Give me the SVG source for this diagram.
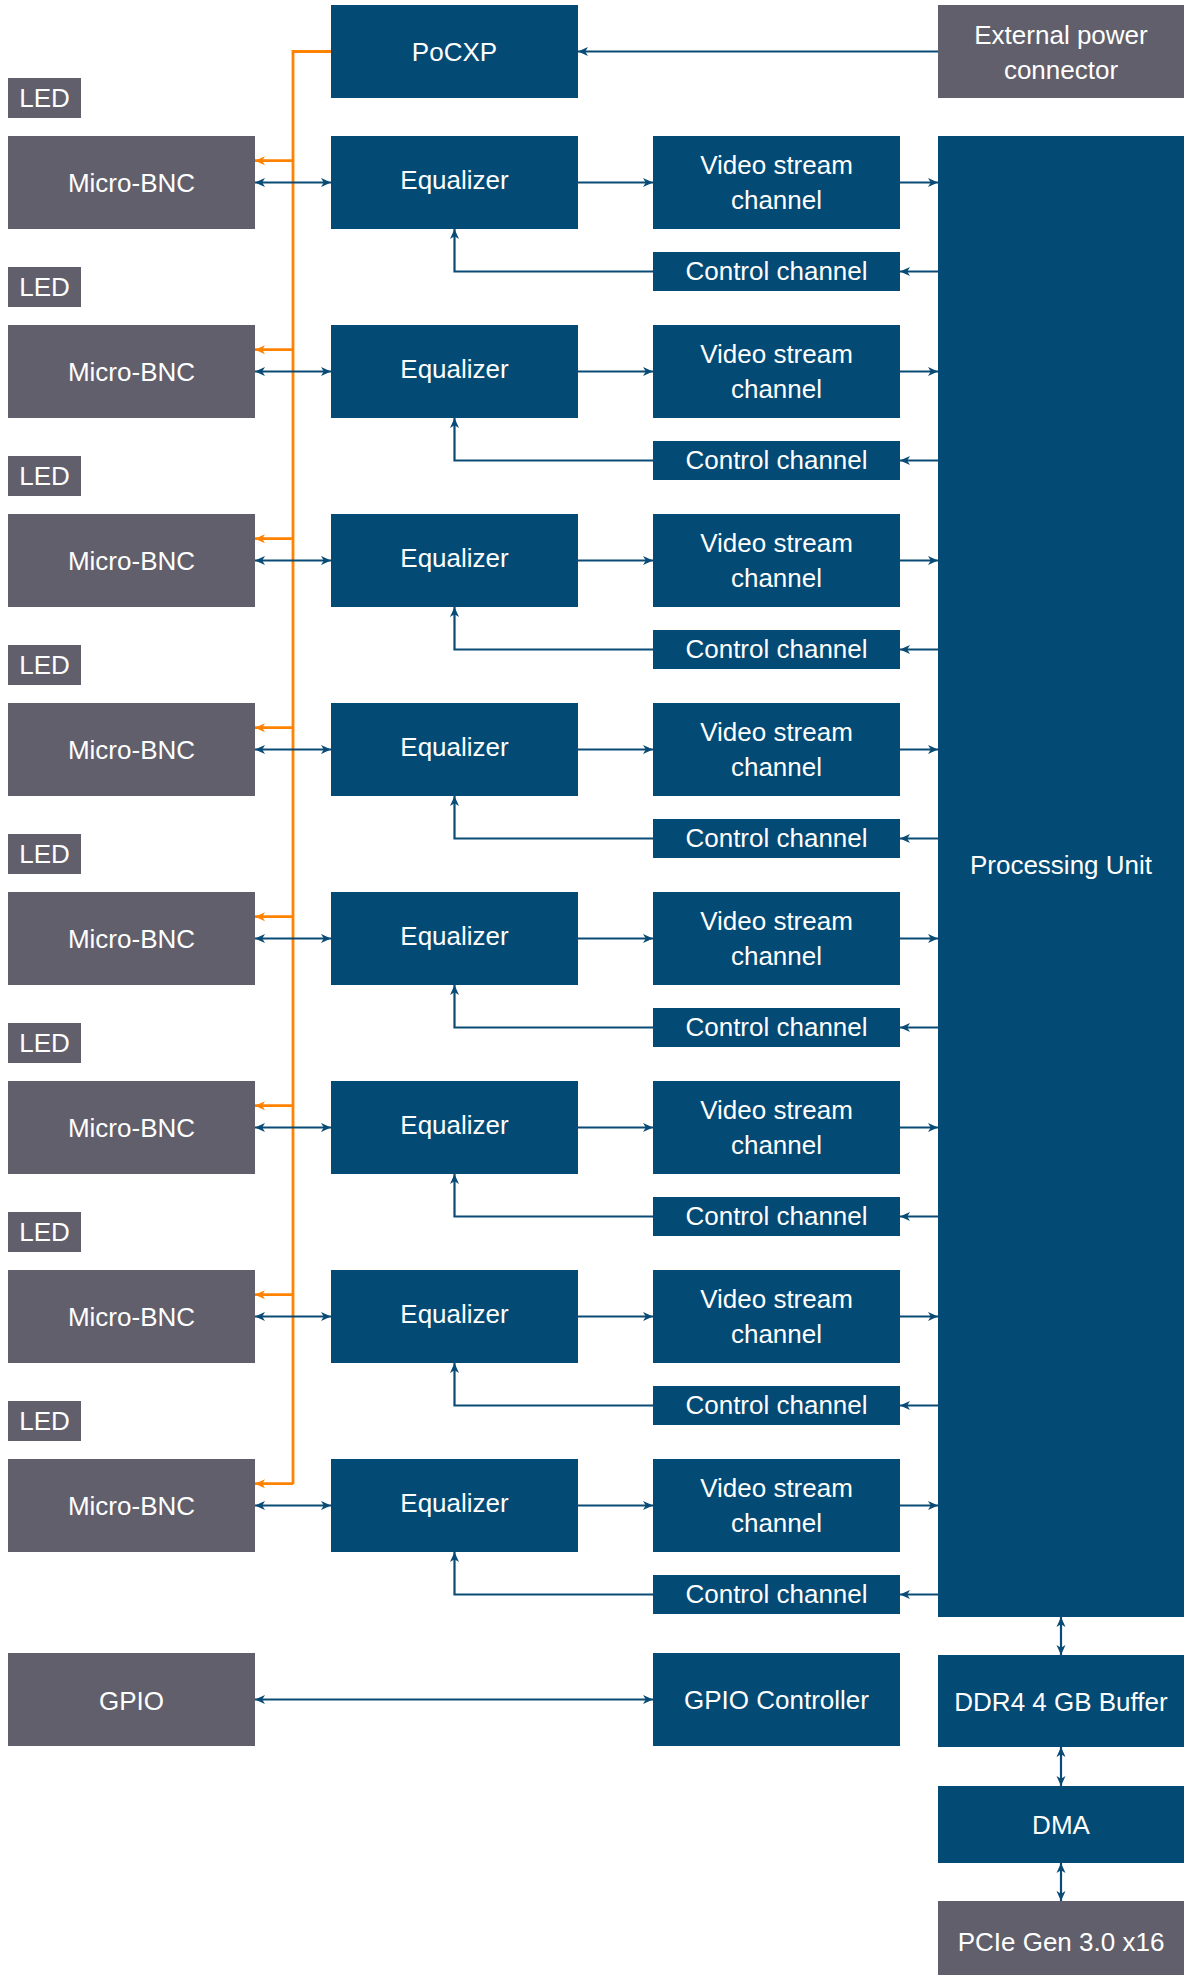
<svg xmlns="http://www.w3.org/2000/svg" width="1186" height="1975" viewBox="0 0 1186 1975">
<style>
.b{fill:#034a75}
.g{fill:#605f6b}
.t{font-family:"Liberation Sans",Arial,sans-serif;font-size:26px;fill:#ffffff;text-anchor:middle}
.c{fill:none;stroke:#0a4b76;stroke-width:2.2}
.o{fill:none;stroke:#ff8200;stroke-width:2.8}
</style>
<defs>
<marker id="ab" viewBox="0 0 10 10" refX="10" refY="5" markerWidth="10" markerHeight="10" markerUnits="userSpaceOnUse" orient="auto-start-reverse">
<path d="M0,0.5 L10,5 L0,9.5 L2.8,5 z" fill="#0a4b76"/>
</marker>
<marker id="ao" viewBox="0 0 10 10" refX="10" refY="5" markerWidth="10" markerHeight="10" markerUnits="userSpaceOnUse" orient="auto-start-reverse">
<path d="M0,0.5 L10,5 L0,9.5 L2.8,5 z" fill="#ff8200"/>
</marker>
</defs>

<g id="connectors">
<path class="c" d="M938,51.5 H578" marker-end="url(#ab)"/>
<path class="o" d="M331,51.5 H293 V1484"/>
<g id="row-connectors">
<path class="o" d="M293,160.7 H255" marker-end="url(#ao)"/>
<path class="o" d="M293,349.7 H255" marker-end="url(#ao)"/>
<path class="o" d="M293,538.7 H255" marker-end="url(#ao)"/>
<path class="o" d="M293,727.7 H255" marker-end="url(#ao)"/>
<path class="o" d="M293,916.7 H255" marker-end="url(#ao)"/>
<path class="o" d="M293,1105.7 H255" marker-end="url(#ao)"/>
<path class="o" d="M293,1294.7 H255" marker-end="url(#ao)"/>
<path class="o" d="M293,1483.7 H255" marker-end="url(#ao)"/>

<path class="c" d="M255,182.5 H331" marker-start="url(#ab)" marker-end="url(#ab)"/>
<path class="c" d="M255,371.5 H331" marker-start="url(#ab)" marker-end="url(#ab)"/>
<path class="c" d="M255,560.5 H331" marker-start="url(#ab)" marker-end="url(#ab)"/>
<path class="c" d="M255,749.5 H331" marker-start="url(#ab)" marker-end="url(#ab)"/>
<path class="c" d="M255,938.5 H331" marker-start="url(#ab)" marker-end="url(#ab)"/>
<path class="c" d="M255,1127.5 H331" marker-start="url(#ab)" marker-end="url(#ab)"/>
<path class="c" d="M255,1316.5 H331" marker-start="url(#ab)" marker-end="url(#ab)"/>
<path class="c" d="M255,1505.5 H331" marker-start="url(#ab)" marker-end="url(#ab)"/>

<path class="c" d="M578,182.5 H653" marker-end="url(#ab)"/>
<path class="c" d="M578,371.5 H653" marker-end="url(#ab)"/>
<path class="c" d="M578,560.5 H653" marker-end="url(#ab)"/>
<path class="c" d="M578,749.5 H653" marker-end="url(#ab)"/>
<path class="c" d="M578,938.5 H653" marker-end="url(#ab)"/>
<path class="c" d="M578,1127.5 H653" marker-end="url(#ab)"/>
<path class="c" d="M578,1316.5 H653" marker-end="url(#ab)"/>
<path class="c" d="M578,1505.5 H653" marker-end="url(#ab)"/>

<path class="c" d="M900,182.5 H938" marker-end="url(#ab)"/>
<path class="c" d="M900,371.5 H938" marker-end="url(#ab)"/>
<path class="c" d="M900,560.5 H938" marker-end="url(#ab)"/>
<path class="c" d="M900,749.5 H938" marker-end="url(#ab)"/>
<path class="c" d="M900,938.5 H938" marker-end="url(#ab)"/>
<path class="c" d="M900,1127.5 H938" marker-end="url(#ab)"/>
<path class="c" d="M900,1316.5 H938" marker-end="url(#ab)"/>
<path class="c" d="M900,1505.5 H938" marker-end="url(#ab)"/>

<path class="c" d="M938,271.5 H900" marker-end="url(#ab)"/>
<path class="c" d="M938,460.5 H900" marker-end="url(#ab)"/>
<path class="c" d="M938,649.5 H900" marker-end="url(#ab)"/>
<path class="c" d="M938,838.5 H900" marker-end="url(#ab)"/>
<path class="c" d="M938,1027.5 H900" marker-end="url(#ab)"/>
<path class="c" d="M938,1216.5 H900" marker-end="url(#ab)"/>
<path class="c" d="M938,1405.5 H900" marker-end="url(#ab)"/>
<path class="c" d="M938,1594.5 H900" marker-end="url(#ab)"/>

<path class="c" d="M653,271.5 H454.5 V229" marker-end="url(#ab)"/>
<path class="c" d="M653,460.5 H454.5 V418" marker-end="url(#ab)"/>
<path class="c" d="M653,649.5 H454.5 V607" marker-end="url(#ab)"/>
<path class="c" d="M653,838.5 H454.5 V796" marker-end="url(#ab)"/>
<path class="c" d="M653,1027.5 H454.5 V985" marker-end="url(#ab)"/>
<path class="c" d="M653,1216.5 H454.5 V1174" marker-end="url(#ab)"/>
<path class="c" d="M653,1405.5 H454.5 V1363" marker-end="url(#ab)"/>
<path class="c" d="M653,1594.5 H454.5 V1552" marker-end="url(#ab)"/>
</g>
<path class="c" d="M255,1699.5 H653" marker-start="url(#ab)" marker-end="url(#ab)"/>
<path class="c" d="M1061,1617 V1655" marker-start="url(#ab)" marker-end="url(#ab)"/>
<path class="c" d="M1061,1747 V1786" marker-start="url(#ab)" marker-end="url(#ab)"/>
<path class="c" d="M1061,1863 V1901" marker-start="url(#ab)" marker-end="url(#ab)"/>
</g>

<g id="pocxp"><rect class="b" x="331" y="5" width="247" height="93"/><text class="t" x="454.5" y="61">PoCXP</text></g>
<g id="ext-power"><rect class="g" x="938" y="5" width="246" height="93"/><text class="t" x="1061" y="44">External power</text><text class="t" x="1061" y="79">connector</text></g>

<g id="led-1"><rect class="g" x="8" y="78" width="73" height="40"/><text class="t" x="44.5" y="107.3">LED</text></g>
<g id="bnc-1"><rect class="g" x="8" y="136" width="247" height="93"/><text class="t" x="131.5" y="191.7">Micro-BNC</text></g>
<g id="eq-1"><rect class="b" x="331" y="136" width="247" height="93"/><text class="t" x="454.5" y="189">Equalizer</text></g>
<g id="vs-1"><rect class="b" x="653" y="136" width="247" height="93"/><text class="t" x="776.5" y="174">Video stream</text><text class="t" x="776.5" y="209">channel</text></g>
<g id="cc-1"><rect class="b" x="653" y="252" width="247" height="39"/><text class="t" x="776.5" y="280">Control channel</text></g>

<g id="led-2"><rect class="g" x="8" y="267" width="73" height="40"/><text class="t" x="44.5" y="296.3">LED</text></g>
<g id="bnc-2"><rect class="g" x="8" y="325" width="247" height="93"/><text class="t" x="131.5" y="380.7">Micro-BNC</text></g>
<g id="eq-2"><rect class="b" x="331" y="325" width="247" height="93"/><text class="t" x="454.5" y="378">Equalizer</text></g>
<g id="vs-2"><rect class="b" x="653" y="325" width="247" height="93"/><text class="t" x="776.5" y="363">Video stream</text><text class="t" x="776.5" y="398">channel</text></g>
<g id="cc-2"><rect class="b" x="653" y="441" width="247" height="39"/><text class="t" x="776.5" y="469">Control channel</text></g>

<g id="led-3"><rect class="g" x="8" y="456" width="73" height="40"/><text class="t" x="44.5" y="485.3">LED</text></g>
<g id="bnc-3"><rect class="g" x="8" y="514" width="247" height="93"/><text class="t" x="131.5" y="569.7">Micro-BNC</text></g>
<g id="eq-3"><rect class="b" x="331" y="514" width="247" height="93"/><text class="t" x="454.5" y="567">Equalizer</text></g>
<g id="vs-3"><rect class="b" x="653" y="514" width="247" height="93"/><text class="t" x="776.5" y="552">Video stream</text><text class="t" x="776.5" y="587">channel</text></g>
<g id="cc-3"><rect class="b" x="653" y="630" width="247" height="39"/><text class="t" x="776.5" y="658">Control channel</text></g>

<g id="led-4"><rect class="g" x="8" y="645" width="73" height="40"/><text class="t" x="44.5" y="674.3">LED</text></g>
<g id="bnc-4"><rect class="g" x="8" y="703" width="247" height="93"/><text class="t" x="131.5" y="758.7">Micro-BNC</text></g>
<g id="eq-4"><rect class="b" x="331" y="703" width="247" height="93"/><text class="t" x="454.5" y="756">Equalizer</text></g>
<g id="vs-4"><rect class="b" x="653" y="703" width="247" height="93"/><text class="t" x="776.5" y="741">Video stream</text><text class="t" x="776.5" y="776">channel</text></g>
<g id="cc-4"><rect class="b" x="653" y="819" width="247" height="39"/><text class="t" x="776.5" y="847">Control channel</text></g>

<g id="led-5"><rect class="g" x="8" y="834" width="73" height="40"/><text class="t" x="44.5" y="863.3">LED</text></g>
<g id="bnc-5"><rect class="g" x="8" y="892" width="247" height="93"/><text class="t" x="131.5" y="947.7">Micro-BNC</text></g>
<g id="eq-5"><rect class="b" x="331" y="892" width="247" height="93"/><text class="t" x="454.5" y="945">Equalizer</text></g>
<g id="vs-5"><rect class="b" x="653" y="892" width="247" height="93"/><text class="t" x="776.5" y="930">Video stream</text><text class="t" x="776.5" y="965">channel</text></g>
<g id="cc-5"><rect class="b" x="653" y="1008" width="247" height="39"/><text class="t" x="776.5" y="1036">Control channel</text></g>

<g id="led-6"><rect class="g" x="8" y="1023" width="73" height="40"/><text class="t" x="44.5" y="1052.3">LED</text></g>
<g id="bnc-6"><rect class="g" x="8" y="1081" width="247" height="93"/><text class="t" x="131.5" y="1136.7">Micro-BNC</text></g>
<g id="eq-6"><rect class="b" x="331" y="1081" width="247" height="93"/><text class="t" x="454.5" y="1134">Equalizer</text></g>
<g id="vs-6"><rect class="b" x="653" y="1081" width="247" height="93"/><text class="t" x="776.5" y="1119">Video stream</text><text class="t" x="776.5" y="1154">channel</text></g>
<g id="cc-6"><rect class="b" x="653" y="1197" width="247" height="39"/><text class="t" x="776.5" y="1225">Control channel</text></g>

<g id="led-7"><rect class="g" x="8" y="1212" width="73" height="40"/><text class="t" x="44.5" y="1241.3">LED</text></g>
<g id="bnc-7"><rect class="g" x="8" y="1270" width="247" height="93"/><text class="t" x="131.5" y="1325.7">Micro-BNC</text></g>
<g id="eq-7"><rect class="b" x="331" y="1270" width="247" height="93"/><text class="t" x="454.5" y="1323">Equalizer</text></g>
<g id="vs-7"><rect class="b" x="653" y="1270" width="247" height="93"/><text class="t" x="776.5" y="1308">Video stream</text><text class="t" x="776.5" y="1343">channel</text></g>
<g id="cc-7"><rect class="b" x="653" y="1386" width="247" height="39"/><text class="t" x="776.5" y="1414">Control channel</text></g>

<g id="led-8"><rect class="g" x="8" y="1401" width="73" height="40"/><text class="t" x="44.5" y="1430.3">LED</text></g>
<g id="bnc-8"><rect class="g" x="8" y="1459" width="247" height="93"/><text class="t" x="131.5" y="1514.7">Micro-BNC</text></g>
<g id="eq-8"><rect class="b" x="331" y="1459" width="247" height="93"/><text class="t" x="454.5" y="1512">Equalizer</text></g>
<g id="vs-8"><rect class="b" x="653" y="1459" width="247" height="93"/><text class="t" x="776.5" y="1497">Video stream</text><text class="t" x="776.5" y="1532">channel</text></g>
<g id="cc-8"><rect class="b" x="653" y="1575" width="247" height="39"/><text class="t" x="776.5" y="1603">Control channel</text></g>

<g id="processing-unit"><rect class="b" x="938" y="136" width="246" height="1481"/><text class="t" x="1061" y="874">Processing Unit</text></g>
<g id="gpio"><rect class="g" x="8" y="1653" width="247" height="93"/><text class="t" x="131.5" y="1710">GPIO</text></g>
<g id="gpio-controller"><rect class="b" x="653" y="1653" width="247" height="93"/><text class="t" x="776.5" y="1709">GPIO Controller</text></g>
<g id="ddr4"><rect class="b" x="938" y="1655" width="246" height="92"/><text class="t" x="1061" y="1711">DDR4 4 GB Buffer</text></g>
<g id="dma"><rect class="b" x="938" y="1786" width="246" height="77"/><text class="t" x="1061" y="1834">DMA</text></g>
<g id="pcie"><rect class="g" x="938" y="1901" width="246" height="93"/><text class="t" x="1061" y="1950.7">PCIe Gen 3.0 x16</text></g>
</svg>
